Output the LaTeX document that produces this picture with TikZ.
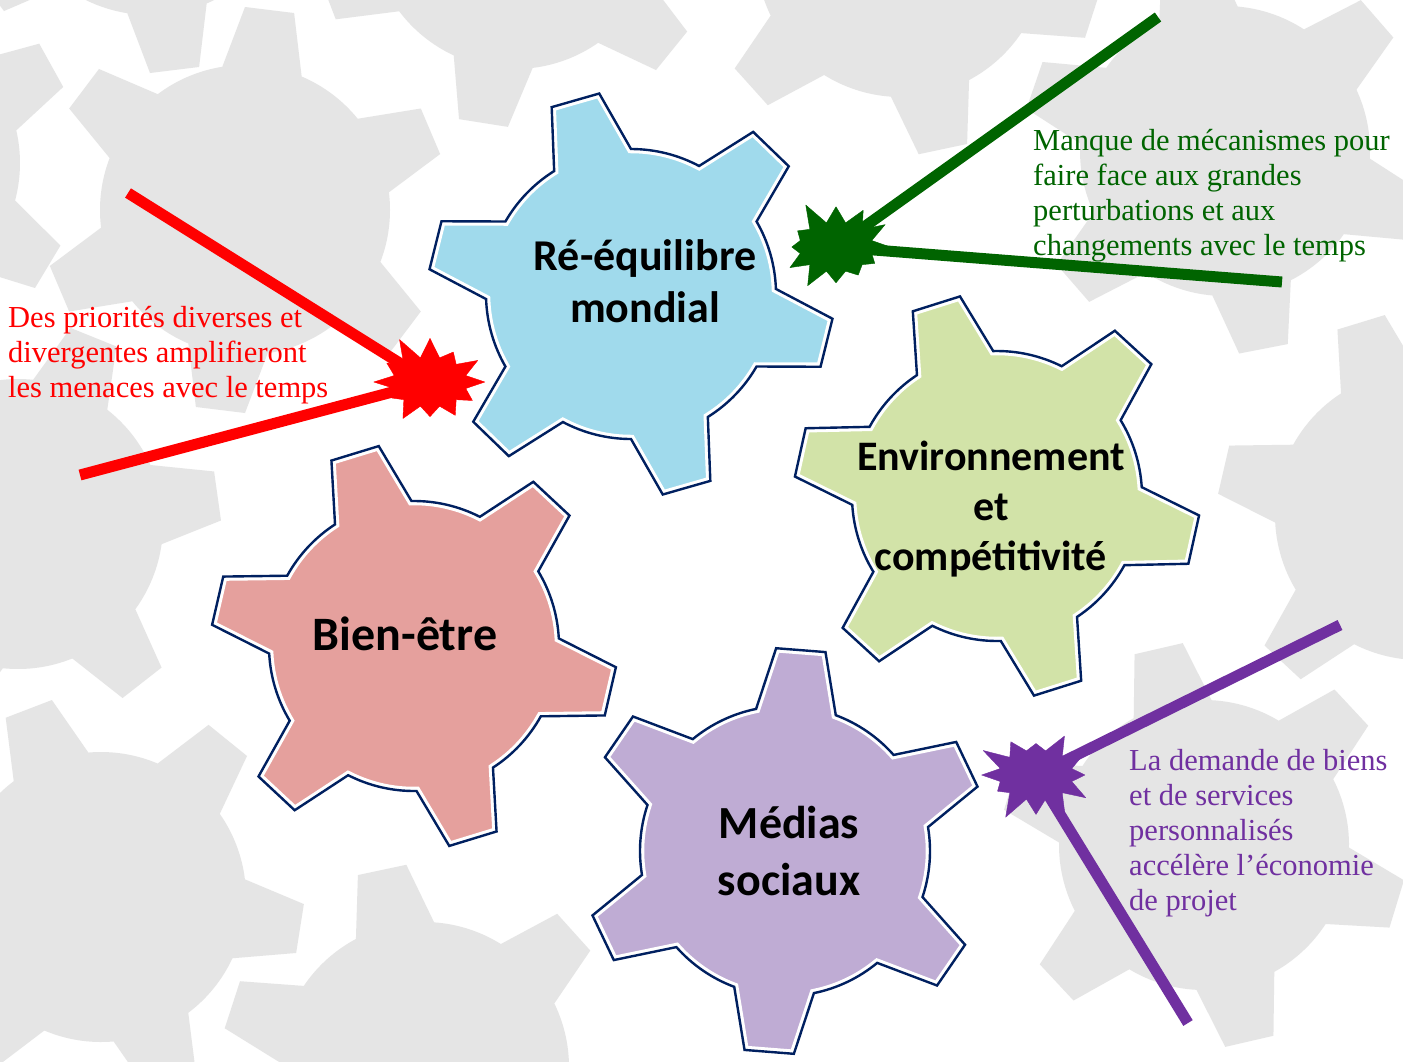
\documentclass[tikz,border=0pt]{standalone}
\usepackage{fontspec}
\setmainfont{Liberation Serif}
\newfontfamily\labelfont{Carlito}
\usetikzlibrary{shapes.symbols}

\definecolor{bggray}{RGB}{229,229,229}
\definecolor{gearline}{RGB}{0,32,96}
\definecolor{gearblue}{RGB}{160,218,236}
\definecolor{gearpink}{RGB}{229,160,157}
\definecolor{geargreen}{RGB}{210,227,168}
\definecolor{gearpurple}{RGB}{191,172,212}
\definecolor{raygreen}{RGB}{0,100,0}
\definecolor{raypurple}{RGB}{112,48,160}

% six-tooth gear outline, #1 = angle of the first tooth
\newcommand{\gearpath}[1]{(#1-16:145) \foreach \k in {0,...,5}{ -- ({#1+60*\k-7}:203) -- ({#1+60*\k+7}:203) -- ({#1+60*\k+16}:145) arc[start angle={#1+60*\k+16}, end angle={#1+60*\k+44}, radius=145]} -- cycle}

\begin{document}
\begin{tikzpicture}[x=1pt, y=1pt,
    note/.style={anchor=north west, align=left, inner sep=0pt, font=\fontsize{30.5}{35}\selectfont},
    gearlabel/.style={align=center, inner sep=0pt, font=\labelfont\bfseries\fontsize{44}{52}\selectfont},
    burst/.style={starburst, starburst points=12, starburst point height=25pt, minimum width=124pt, minimum height=100pt, inner sep=0pt, line join=round},
    ray/.style={line width=11pt}]
  \useasboundingbox (0,0) rectangle (1403,-1061);
  \fill[white] (0,0) rectangle (1403,-1061);

  % Grey gears behind
  \begin{scope}
    \clip (0,0) rectangle (1403,-1061);
    \foreach \gx/\gy/\gt in {245/-210/23, 515/76/-39, 150/130/-83, -125/-163/29, 18/-524/8, 101/-897/-9, 424/-1067/42, 901/48/-78, 1225/-151/-79, 1420/-515/107, 1204/-845/103}
      \fill[bggray, shift={(\gx,\gy)}] \gearpath{\gt};
  \end{scope}

  % Coloured gears
  \foreach \gx/\gy/\gt/\gc in {631/-294/-14/gearblue, 997/-496/-12.5/geargreen, 414/-646/-13/gearpink, 785/-851/25.5/gearpurple}{
    \begin{scope}[shift={(\gx,\gy)}]
      \fill[\gc] \gearpath{\gt};
      \begin{scope}
        \clip \gearpath{\gt};
        \draw[white, line width=8.5pt] \gearpath{\gt};
      \end{scope}
      \draw[gearline, line width=2.4pt] \gearpath{\gt};
    \end{scope}
  }

  % Gear labels
  \node[gearlabel] (balance) at (645,-281) {Ré-équilibre\\mondial};
  \node[gearlabel, font=\labelfont\bfseries\fontsize{42}{50}\selectfont] (environment) at (991,-509) {Environnement\\et\\compétitivité};
  \node[gearlabel, anchor=base, font=\labelfont\bfseries\fontsize{48}{52}\selectfont] (wellbeing) at (405,-650) {Bien-être};
  \node[gearlabel, font=\labelfont\bfseries\fontsize{46}{57}\selectfont] (socialmedia) at (789,-851) {Médias\\sociaux};

  % Threats: burst and two rays each
  \node[burst, fill=red, draw=red, random starburst=11] (redburst) at (430,-382) {};
  \coordinate (redtop) at (128,-193);
  \coordinate (redlow) at (80,-475);
  \draw[ray, red] (redtop) -- (redburst.center);
  \draw[ray, red] (redlow) -- (redburst.center);

  \node[burst, fill=raygreen, draw=raygreen, random starburst=5] (greenburst) at (836,-247) {};
  \coordinate (greentop) at (1158,-17);
  \coordinate (greenlow) at (1282,-282);
  \draw[ray, raygreen] (greentop) -- (greenburst.center);
  \draw[ray, raygreen] (greenlow) -- (greenburst.center);

  \node[burst, fill=raypurple, draw=raypurple, random starburst=23] (purpleburst) at (1036,-775) {};
  \coordinate (purpletop) at (1340,-625);
  \coordinate (purplelow) at (1188,-1023);
  \draw[ray, raypurple] (purpletop) -- (purpleburst.center);
  \draw[ray, raypurple] (purplelow) -- (purpleburst.center);

  % Texts
  \node[note, text=red] (redtext) at (8,-306) {Des priorités diverses et\\divergentes amplifieront\\les menaces avec le temps};
  \node[note, text=raygreen] (greentext) at (1033,-129) {Manque de mécanismes pour\\faire face aux grandes\\perturbations et aux\\changements avec le temps};
  \node[note, text=raypurple] (purpletext) at (1129,-749) {La demande de biens\\et de services\\personnalisés\\accélère l’économie\\de projet};
\end{tikzpicture}
\end{document}
